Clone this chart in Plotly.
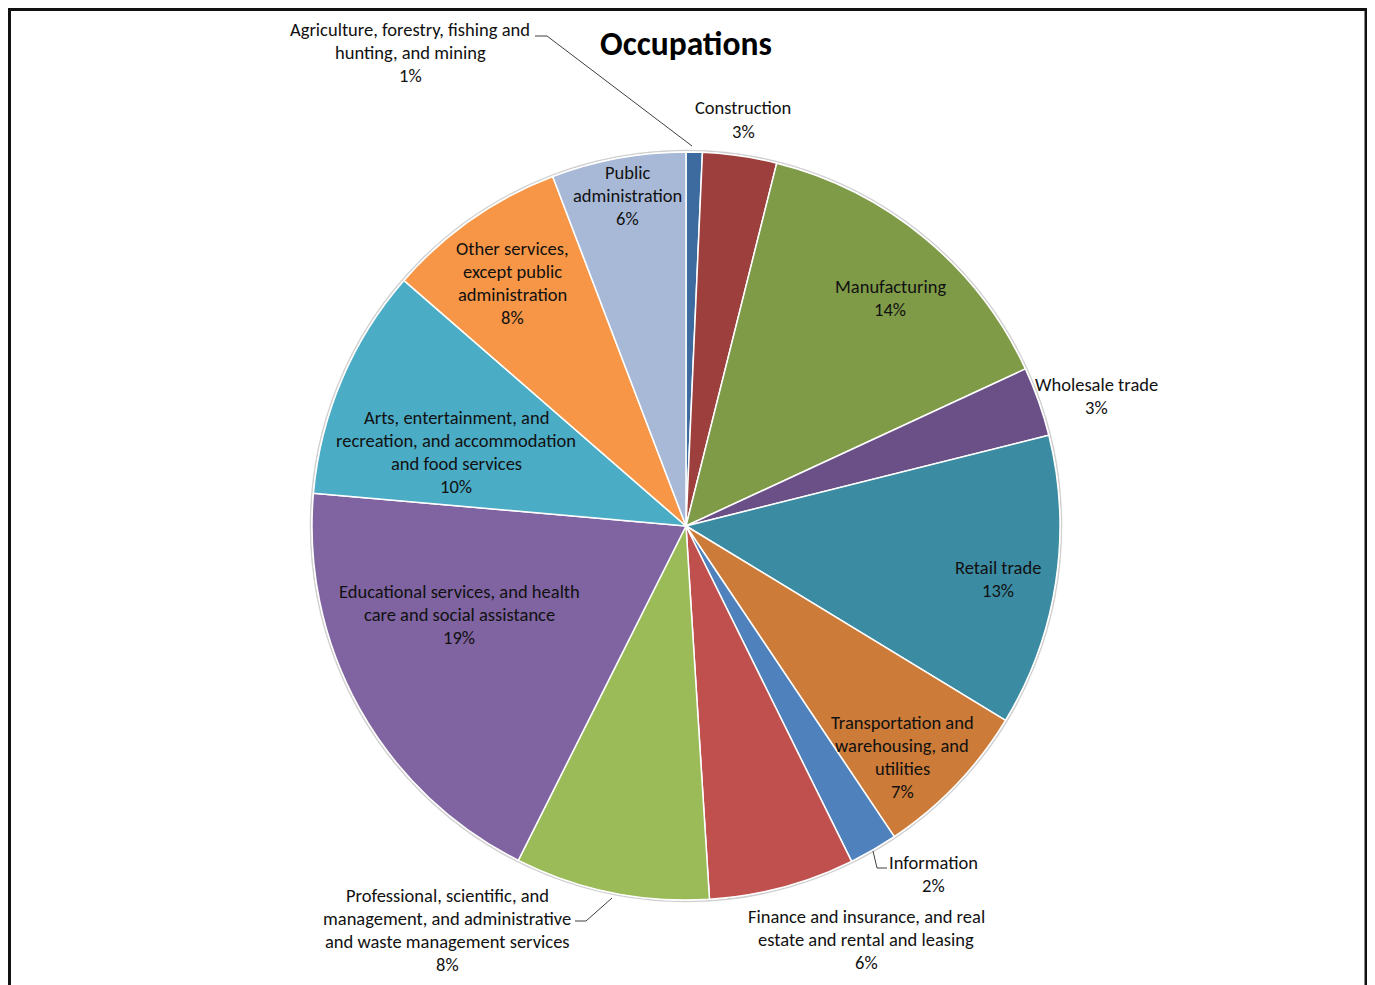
import plotly.graph_objects as go

# ---------------- data ----------------
categories = [
    "Agriculture, forestry, fishing and hunting, and mining",
    "Construction",
    "Manufacturing",
    "Wholesale trade",
    "Retail trade",
    "Transportation and warehousing, and utilities",
    "Information",
    "Finance and insurance, and real estate and rental and leasing",
    "Professional, scientific, and management, and administrative and waste management services",
    "Educational services, and health care and social assistance",
    "Arts, entertainment, and recreation, and accommodation and food services",
    "Other services, except public administration",
    "Public administration",
]
shares = [0.7, 3.2, 14.2, 3.0, 12.6, 6.9, 2.1, 6.3, 8.4, 19.0, 10.0, 7.8, 5.8]

# ---------------- style ----------------
colors = ["#3D6B9F", "#9C3F3D", "#7F9B48", "#6A5087", "#3B8BA3", "#CD7B38",
          "#4F81BD", "#C0504D", "#9BBB59", "#8064A2", "#4BACC6", "#F79646", "#A8B9D7"]

label_lines = [
    ["Agriculture, forestry, fishing and", "hunting, and mining"],
    ["Construction"],
    ["Manufacturing"],
    ["Wholesale trade"],
    ["Retail trade"],
    ["Transportation and", "warehousing, and", "utilities"],
    ["Information"],
    ["Finance and insurance, and real", "estate and rental and leasing"],
    ["Professional, scientific, and", "management, and administrative", "and waste management services"],
    ["Educational services, and health", "care and social assistance"],
    ["Arts, entertainment, and", "recreation, and accommodation", "and food services"],
    ["Other services,", "except public", "administration"],
    ["Public", "administration"],
]
# label block placement in screen pixels: (center x, first-line y)
label_pos = [(410, 29), (743, 108), (890, 286), (1096, 384), (998, 567), (902, 722),
             (933, 862), (866, 916), (447, 895), (459, 591), (456, 417), (513, 248), (627, 172)]

W, H = 1375, 985
OFF = 8  # page body margin
CX, CY, R = 686, 526, 374
LINE = 23.3
FONT = "Carlito, Calibri, Lato, sans-serif"


def px(x):
    return (x - OFF) / W


def py(y):
    return 1 - (y - OFF) / H


total = sum(shares)

fig = go.Figure(go.Pie(
    labels=categories,
    values=shares,
    sort=False,
    direction="clockwise",
    rotation=0,
    textinfo="none",
    marker=dict(colors=colors, line=dict(color="white", width=1.5)),
    domain=dict(x=[px(CX - R), px(CX + R)], y=[py(CY + R), py(CY - R)]),
    showlegend=False,
))

annotations = []
for lines, (x, y0), v in zip(label_lines, label_pos, shares):
    pct = f"{round(v / total * 100)}%"
    for i, t in enumerate(lines + [pct]):
        annotations.append(dict(
            x=px(x), y=py(y0 + i * LINE), xref="paper", yref="paper",
            text=t, showarrow=False, xanchor="center", yanchor="middle",
            font=dict(family=FONT, size=18.5, color="#111111"),
        ))

annotations.append(dict(
    x=px(686), y=py(44), xref="paper", yref="paper", text="<b>Occupations</b>",
    showarrow=False, xanchor="center", yanchor="middle",
    font=dict(family=FONT, size=33.5, color="black"),
))

shapes = [
    # outer frame
    dict(type="rect", xref="paper", yref="paper", x0=px(9.5), x1=px(1366), y0=-0.02, y1=py(9.5),
         line=dict(color="#111111", width=3), layer="below"),
    # subtle rim around pie
    dict(type="circle", xref="paper", yref="paper",
         x0=px(CX - R - 1.5), x1=px(CX + R + 1.5), y0=py(CY + R + 1.5), y1=py(CY - R - 1.5),
         line=dict(color="#d0d0d0", width=1.5), layer="below"),
    # leader lines
    dict(type="path", xref="paper", yref="paper",
         path=f"M {px(535)},{py(36)} L {px(547)},{py(36)} L {px(692)},{py(146)}",
         line=dict(color="#404040", width=1)),
    dict(type="path", xref="paper", yref="paper",
         path=f"M {px(873)},{py(851)} L {px(877)},{py(868)} L {px(887)},{py(868)}",
         line=dict(color="#404040", width=1)),
    dict(type="path", xref="paper", yref="paper",
         path=f"M {px(575)},{py(921)} L {px(586)},{py(921)} L {px(612)},{py(898)}",
         line=dict(color="#404040", width=1)),
]

fig.update_layout(
    width=W, height=H,
    margin=dict(l=0, r=0, t=0, b=0),
    paper_bgcolor="white",
    plot_bgcolor="white",
    annotations=annotations,
    shapes=shapes,
)

fig.write_html("out.html")
